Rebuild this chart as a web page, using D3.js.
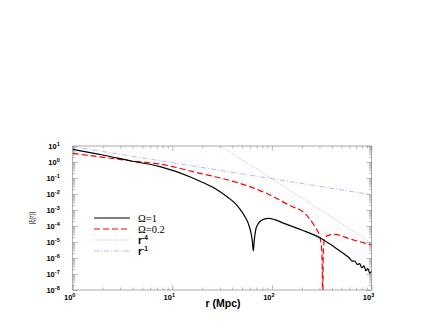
<!DOCTYPE html>
<html>
<head>
<meta charset="utf-8">
<script src="https://cdn.jsdelivr.net/npm/d3@7"></script>
<style>
  body { margin: 0; background: #fff; }
  text { font-family: "Liberation Sans", Arial, sans-serif; }
</style>
</head>
<body>
<div id="chart"></div>
<script>
const W = 436, H = 327;
const margin = {top: 146, right: 64.5, bottom: 37, left: 72.7};

// [r (Mpc), |xi(r)|]
const omega1 = [
  [1, 6.2], [2, 2.75], [3.77, 1.2], [7.53, 0.51], [15, 0.12], [19, 0.063],
  [26.9, 0.022], [30.2, 0.0138], [36, 0.0063], [42.7, 0.0026], [48, 0.0011],
  [53.7, 3.8e-4], [58, 1.4e-4], [61, 5e-5], [63.5, 1.26e-5], [65.1, 2.75e-6],
  [66.5, 1.26e-5], [68.5, 5e-5], [72, 1.26e-4], [78, 2.2e-4], [92, 3.0e-4],
  [107, 2.5e-4], [134.6, 1.4e-4], [200, 5.6e-5], [316, 1.6e-5], [420, 5e-6],
  [560, 1.4e-6], [600, 1.0e-6], [640, 6.3e-7], [680, 6.5e-7], [720, 3.9e-7],
  [760, 4.4e-7], [800, 2.45e-7], [840, 3.2e-7], [880, 1.6e-7], [920, 2.2e-7],
  [960, 1.1e-7], [1000, 1.5e-7]
];
const omega02 = [
  [1, 3.5], [2.03, 1.95], [3.77, 1.2], [7.8, 0.72], [19, 0.195], [26.9, 0.12],
  [62.8, 0.026], [95.6, 0.0087], [134.6, 0.0028], [152, 0.0019], [215, 6e-4],
  [270, 9.1e-5], [303, 2.1e-5], [315, 4e-6], [320, 4e-7], [323.5, 1e-10],
  [326.5, 4e-7], [330, 5e-6], [340, 1.8e-5], [380, 2.8e-5], [428, 3.0e-5],
  [600, 1.6e-5], [1000, 6.5e-6]
];
const powerM4 = [[30.8, 10], [1000, 8.7e-6]];
const powerM1 = [[1, 9], [1000, 9e-3]];

const xTicks = [1, 10, 100, 1000];
const yTicks = [1e1, 1e0, 1e-1, 1e-2, 1e-3, 1e-4, 1e-5, 1e-6, 1e-7, 1e-8];

const series = [
  {name: "Ω=1",   data: omega1,  color: "#000",    width: 1.2, dash: null,      sup: null},
  {name: "Ω=0.2", data: omega02, color: "#ff0000", width: 1.2, dash: "6,3",     sup: null},
  {name: "r",     data: powerM4, color: "#999",    width: 0.6, dash: "1,1.2",   sup: "-4"},
  {name: "r",     data: powerM1, color: "#aab0ff", width: 0.9, dash: "5,2,1,2", sup: "-1"}
];

const svg = d3.select("#chart").append("svg")
  .attr("width", W).attr("height", H);

const x = d3.scaleLog().domain([1, 1000]).range([margin.left, W - margin.right]);
const y = d3.scaleLog().domain([1e-8, 10]).range([H - margin.bottom, margin.top]);

svg.append("clipPath").attr("id", "clip")
  .append("rect")
  .attr("x", x(1)).attr("y", y(10))
  .attr("width", x(1000) - x(1)).attr("height", y(1e-8) - y(10));

// minor / major ticks on all four sides, pointing inwards
const xMinor = [], yMinor = [];
for (let e = 0; e < 3; e++) for (let k = 2; k < 10; k++) xMinor.push(k * Math.pow(10, e));
for (let e = -8; e < 1; e++) for (let k = 2; k < 10; k++) yMinor.push(k * Math.pow(10, e));

function tickGroup(axis, tr) {
  const g = svg.append("g").attr("transform", tr).call(axis);
  g.select(".domain").remove();
  g.selectAll("line").attr("stroke", "#888").attr("stroke-width", 0.6);
  g.selectAll("text").remove();
}
const yb = y(1e-8), yt = y(10), xl = x(1), xr = x(1000);
tickGroup(d3.axisBottom(x).tickValues(xMinor).tickSize(-2.5), `translate(0,${yb})`);
tickGroup(d3.axisTop(x).tickValues(xMinor).tickSize(-2.5), `translate(0,${yt})`);
tickGroup(d3.axisBottom(x).tickValues(xTicks).tickSize(-5), `translate(0,${yb})`);
tickGroup(d3.axisTop(x).tickValues(xTicks).tickSize(-5), `translate(0,${yt})`);
tickGroup(d3.axisLeft(y).tickValues(yMinor).tickSize(-2.5), `translate(${xl},0)`);
tickGroup(d3.axisRight(y).tickValues(yMinor).tickSize(-2.5), `translate(${xr},0)`);
tickGroup(d3.axisLeft(y).tickValues(yTicks).tickSize(-5), `translate(${xl},0)`);
tickGroup(d3.axisRight(y).tickValues(yTicks).tickSize(-5), `translate(${xr},0)`);

// frame
svg.append("rect")
  .attr("x", xl).attr("y", yt)
  .attr("width", xr - xl).attr("height", yb - yt)
  .attr("fill", "none").attr("stroke", "#888").attr("stroke-width", 0.7);

// tick labels: 10 with superscript exponent
function powLabel(sel, v) {
  const e = Math.round(Math.log10(v));
  sel.append("tspan").text("10");
  sel.append("tspan").attr("dy", -3.5).attr("font-size", 5.5).text(e);
}
xTicks.forEach(v => {
  svg.append("text")
    .attr("x", x(v) - 3).attr("y", yb + 10)
    .attr("text-anchor", "middle")
    .attr("font-size", 7.5).attr("font-weight", "bold")
    .call(powLabel, v);
});
yTicks.forEach(v => {
  svg.append("text")
    .attr("x", xl - 13).attr("y", y(v) + 3)
    .attr("text-anchor", "end")
    .attr("font-size", 7.5).attr("font-weight", "bold")
    .call(powLabel, v);
});

// axis titles
svg.append("text")
  .attr("x", 223).attr("y", 307)
  .attr("text-anchor", "middle")
  .attr("font-size", 10.5).attr("font-weight", "bold")
  .text("r (Mpc)");
svg.append("text")
  .attr("transform", `translate(34,218) rotate(-90)`)
  .attr("text-anchor", "middle")
  .attr("font-size", 6.5)
  .text("|ξ(r)|");

// curves
const line = d3.line()
  .x(d => x(d[0]))
  .y(d => y(d[1]))
  .curve(d3.curveMonotoneX);

const plot = svg.append("g").attr("clip-path", "url(#clip)");
series.slice().reverse().forEach(s => {
  plot.append("path")
    .datum(s.data)
    .attr("fill", "none")
    .attr("stroke", s.color)
    .attr("stroke-width", s.width)
    .attr("stroke-dasharray", s.dash)
    .attr("d", line);
});

// legend
const legend = svg.append("g");
series.forEach((s, i) => {
  const ly = 218 + i * 11;
  legend.append("line")
    .attr("x1", 94).attr("x2", 130).attr("y1", ly).attr("y2", ly)
    .attr("stroke", s.color)
    .attr("stroke-width", s.width)
    .attr("stroke-dasharray", s.dash);
  const t = legend.append("text")
    .attr("x", 138).attr("y", ly + 4)
    .attr("font-size", 10.5);
  if (s.sup) {
    t.attr("font-weight", "bold");
    t.append("tspan").text(s.name);
    t.append("tspan").attr("dy", -4).attr("font-size", 6.5).text(s.sup);
  } else {
    t.style("font-family", "'Liberation Serif', 'Times New Roman', serif").text(s.name);
  }
});
</script>
</body>
</html>
